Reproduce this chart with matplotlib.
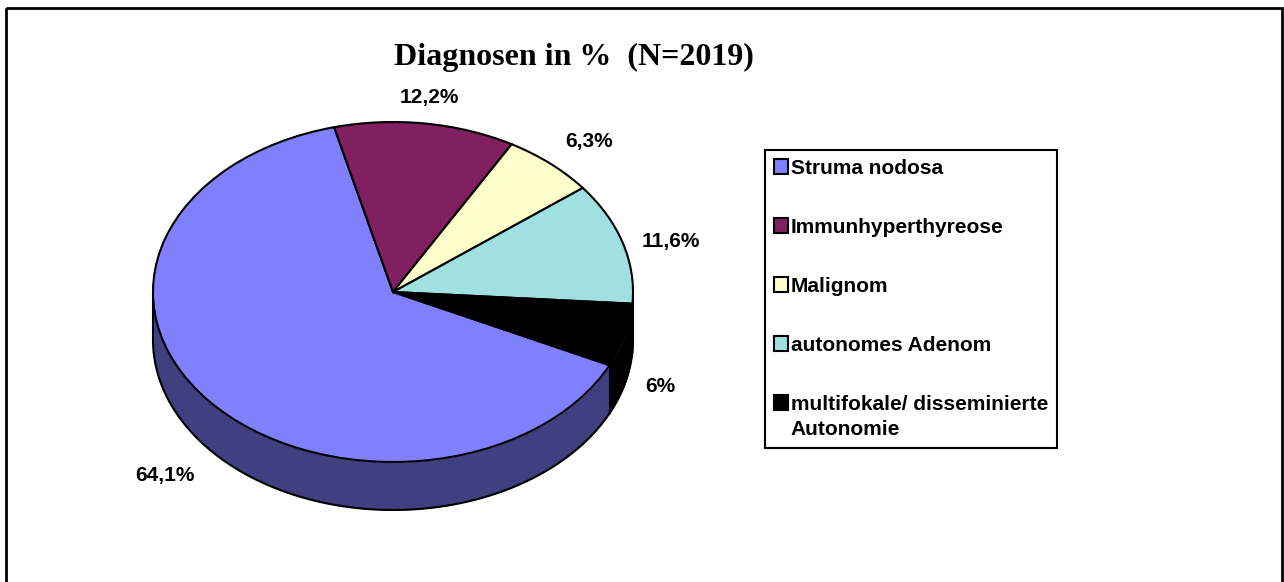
import numpy as np
import matplotlib
matplotlib.use("Agg")
import matplotlib.pyplot as plt
from matplotlib.patches import Patch, Rectangle
from matplotlib.legend_handler import HandlerPatch

title = "Diagnosen in %  (N=2019)"
categories = ["Struma nodosa", "Immunhyperthyreose", "Malignom", "autonomes Adenom",
              "multifokale/ disseminierte\nAutonomie"]
values = [64.1, 12.2, 6.3, 11.6, 6.0]
value_labels = ["64,1%", "12,2%", "6,3%", "11,6%", "6%"]
top_colors = ["#8080FF", "#802060", "#FFFFCC", "#A0E0E0", "#000000"]
side_colors = ["#404080", "#401030", "#808066", "#000000", "#000000"]

W, H = 1284, 582
fig = plt.figure(figsize=(W / 100, H / 100), dpi=100, facecolor="white")
SANS = "Liberation Sans"
SERIF = "Liberation Serif"

# page axes in pixel coordinates
bg = fig.add_axes([0, 0, 1, 1], zorder=0)
bg.set_xlim(0, W)
bg.set_ylim(H, 0)
bg.axis("off")
bg.add_patch(Rectangle((6, 8), 1276, 600, fill=False, ec="black", lw=2.0, clip_on=True))
bg.text(574, 57, title, family=SERIF, weight="bold", fontsize=23, ha="center", va="center")

# pie axes: unit circle stretched to an ellipse
cx, cy, rx, ry, depth_px = 393, 292, 240, 170, 48
depth = depth_px / ry
ax = fig.add_axes([(cx - rx) / W, 1 - (cy + ry + depth_px) / H, 2 * rx / W, (2 * ry + depth_px) / H], zorder=1)
wedges, _ = ax.pie(values, colors=top_colors, startangle=-25.5, counterclock=False,
                   radius=1, wedgeprops=dict(edgecolor="black", linewidth=1.5, zorder=5))
ax.set_aspect("auto")
ax.set_xlim(-1, 1)
ax.set_ylim(-1 - depth, 1)
ax.axis("off")

for w, sc in zip(wedges, side_colors):
    th = np.radians(np.linspace(w.theta1, w.theta2, 600))
    th = th[np.sin(th) <= 0]
    if th.size < 2:
        continue
    x = np.cos(th)
    y = np.sin(th)
    ax.fill_between(x, y - depth, y, color=sc, lw=0, zorder=2, clip_on=False)
    ax.plot(x, y - depth, color="black", lw=1.5, zorder=3, clip_on=False)
    for i in (0, -1):
        ax.plot([x[i], x[i]], [y[i], y[i] - depth], color="black", lw=1.5, zorder=3, clip_on=False)

# value labels
label_xy = [(165, 475), (429, 98), (589, 142), (671, 241), (660, 387)]
for s, (lx, ly) in zip(value_labels, label_xy):
    bg.text(lx, ly, s, family=SANS, weight="bold", fontsize=15, ha="center", va="center", zorder=3)


class ShiftedHandler(HandlerPatch):
    """Lifts the swatch to the first line of a two-line legend entry."""

    def __init__(self, shift, **kw):
        super().__init__(**kw)
        self.shift = shift

    def create_artists(self, *args, **kw):
        arts = super().create_artists(*args, **kw)
        for a in arts:
            a.set_y(a.get_y() + self.shift)
        return arts


# legend
handles = [Patch(facecolor=c, edgecolor="black", linewidth=1.5) for c in top_colors]
leg = bg.legend(handles, categories, loc="upper left", bbox_to_anchor=(765 / W, 1 - 150 / H),
                bbox_transform=fig.transFigure, borderaxespad=0, fancybox=False, framealpha=1,
                edgecolor="black", prop=dict(family=SANS, weight="bold", size=15),
                labelspacing=1.92, handlelength=0.7, handleheight=0.7, handletextpad=0.12,
                borderpad=0.42, handler_map={handles[-1]: ShiftedHandler(10.5)})
leg.get_frame().set_linewidth(1.5)
for t in leg.get_texts():
    t.set_linespacing(1.42)

fig.savefig("out.png", dpi=100)
